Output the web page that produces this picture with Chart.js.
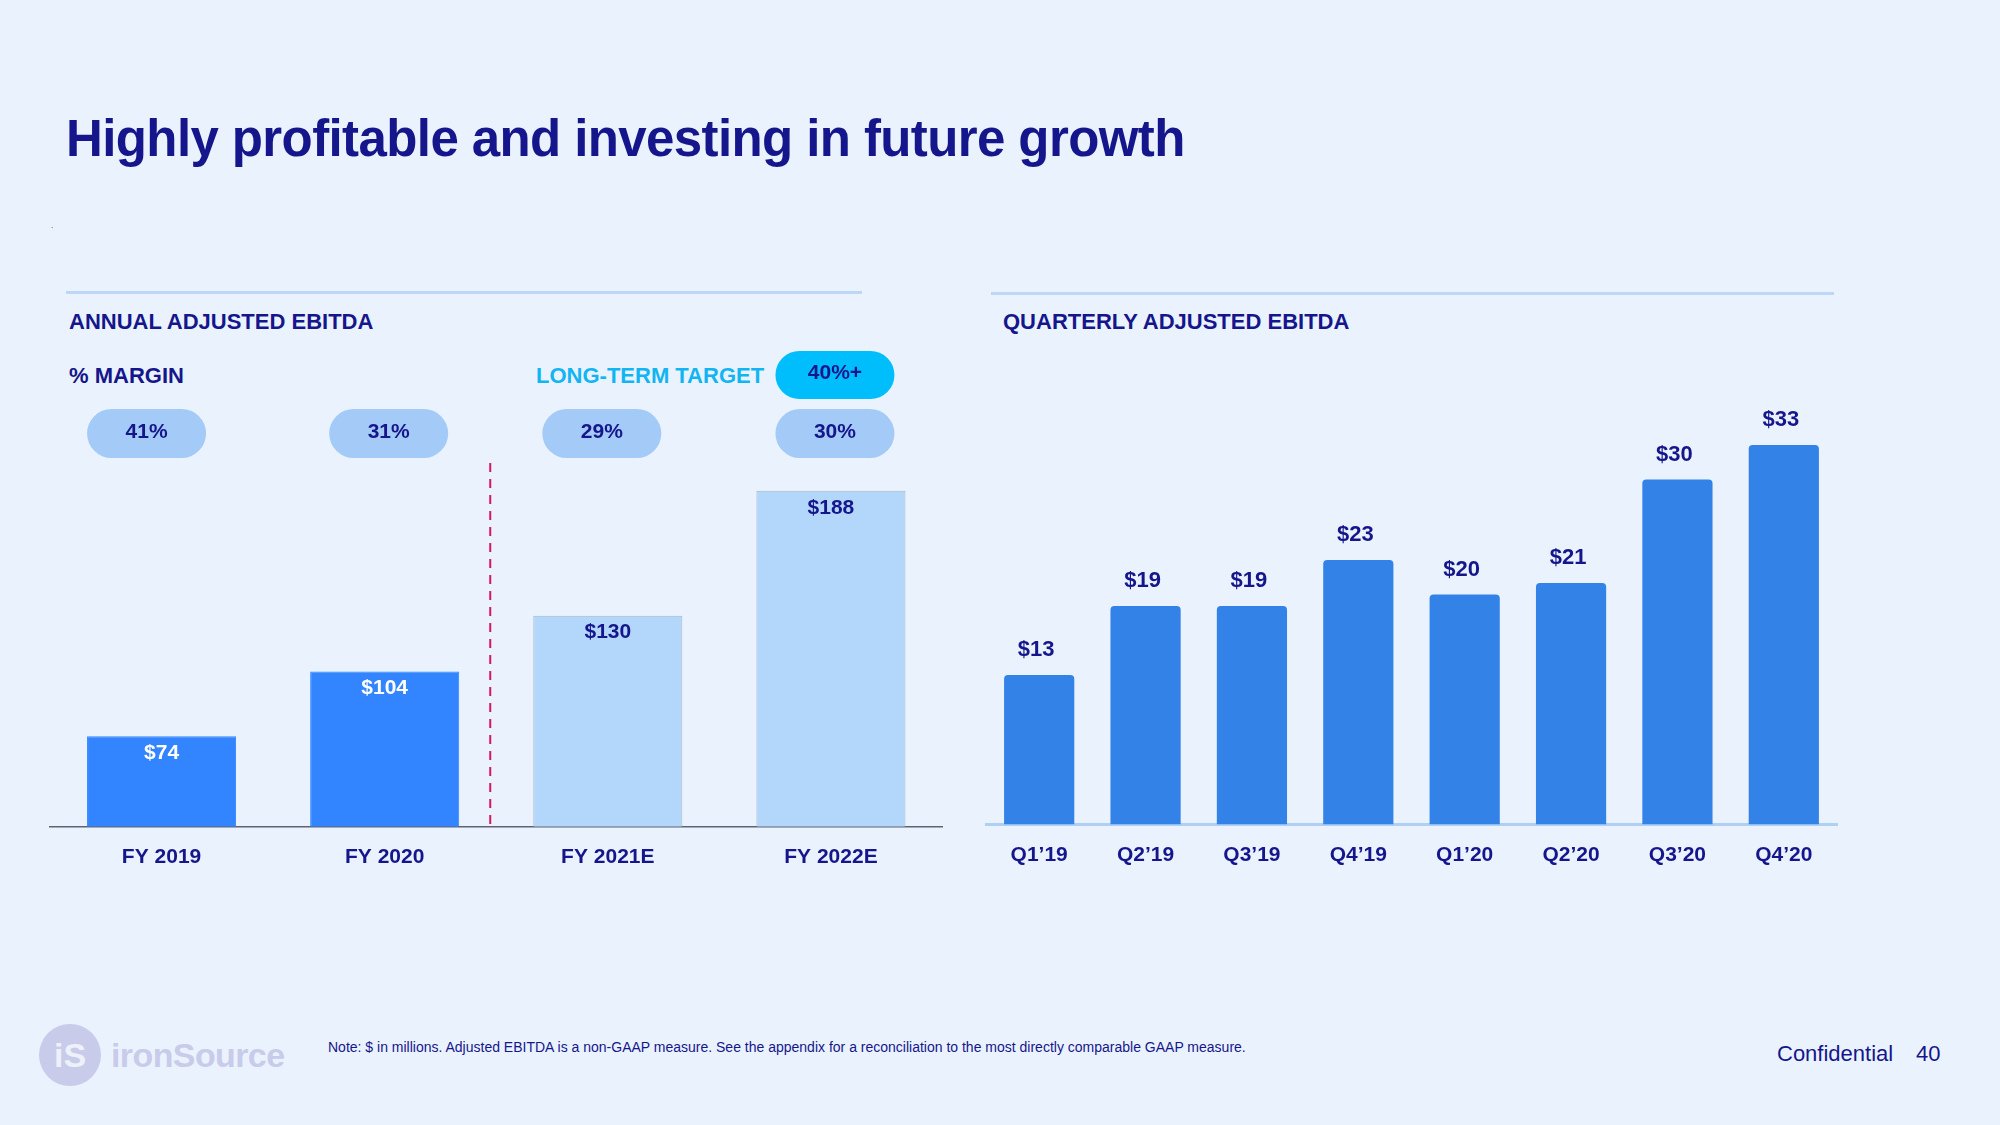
<!DOCTYPE html>
<html>
<head>
<meta charset="utf-8">
<script src="https://cdn.jsdelivr.net/npm/chart.js@4.4.0/dist/chart.umd.min.js"></script>
<style>
  html, body { margin: 0; padding: 0; }
  body {
    width: 2000px; height: 1125px; position: relative; overflow: hidden;
    background: #EAF3FD; font-family: "Liberation Sans", Arial, sans-serif; color: #16168C;
  }
  .abs { position: absolute; white-space: nowrap; line-height: 1; }
  .rule { position: absolute; height: 3px; background: #BCD8F6; }
  .hdr { font-weight: bold; font-size: 22px; }
  canvas { position: absolute; }
</style>
</head>
<body>
<div class="abs" id="title" style="left:66px; top:113px; font-size:51px; font-weight:bold; letter-spacing:-0.6px;">Highly profitable and investing in future growth</div>
<div class="abs" style="left:51px; top:222px; font-size:8px;">.</div>

<div class="rule" style="left:66px; top:291px; width:796px;"></div>
<div class="rule" style="left:991px; top:292px; width:843px;"></div>

<div class="abs hdr" style="left:69px; top:311px;">ANNUAL ADJUSTED EBITDA</div>
<div class="abs hdr" style="left:69px; top:365px;">% MARGIN</div>
<div class="abs hdr" style="left:536px; top:365px; color:#12B5F2;">LONG-TERM TARGET</div>
<div class="abs hdr" style="left:1003px; top:311px;">QUARTERLY ADJUSTED EBITDA</div>

<canvas id="annualChart" width="1000" height="620" style="left:0px; top:280px;"></canvas>
<canvas id="quarterChart" width="1040" height="620" style="left:960px; top:280px;"></canvas>

<div class="abs" style="left:39px; top:1024px; width:62px; height:62px; border-radius:50%; background:#C9CBEA; color:#EEF0FA; font-weight:bold; font-size:34px; text-align:center; line-height:62px;">iS</div>
<div class="abs" style="left:111px; top:1038px; font-size:34px; font-weight:bold; color:#C9CBEA; letter-spacing:-0.6px;">ironSource</div>
<div class="abs" style="left:328px; top:1040px; font-size:14px;">Note: $ in millions. Adjusted EBITDA is a non-GAAP measure. See the appendix for a reconciliation to the most directly comparable GAAP measure.</div>
<div class="abs" style="left:1777px; top:1043px; font-size:22px;">Confidential</div>
<div class="abs" style="left:1916px; top:1043px; font-size:22px;">40</div>

<script>
const annualLabels = ['FY 2019', 'FY 2020', 'FY 2021E', 'FY 2022E'];
const annualValues = [74, 104, 130, 188];
const annualMargins = ['41%', '31%', '29%', '30%'];
const longTermTarget = '40%+';

const quarterLabels = ['Q1\u201919', 'Q2\u201919', 'Q3\u201919', 'Q4\u201919', 'Q1\u201920', 'Q2\u201920', 'Q3\u201920', 'Q4\u201920'];
const quarterValues = [13, 19, 19, 23, 20, 21, 30, 33];

const NAVY = '#16168C';
const FONT = '"Liberation Sans", Arial, sans-serif';

// actuals dark, estimates light
const annualColors = ['#3385FF', '#3385FF', '#B3D6FB', '#B3D6FB'];
const annualBorders = ['#3385FF', '#3385FF', '#A3B7CB', '#A3B7CB'];
const annualTextColors = ['#FFFFFF', '#FFFFFF', NAVY, NAVY];

function roundRect(ctx, x, y, w, h, r) {
    ctx.beginPath();
    ctx.moveTo(x + r, y);
    ctx.arcTo(x + w, y, x + w, y + h, r);
    ctx.arcTo(x + w, y + h, x, y + h, r);
    ctx.arcTo(x, y + h, x, y, r);
    ctx.arcTo(x, y, x + w, y, r);
    ctx.closePath();
}

const annualDecor = {
    id: 'annualDecor',
    beforeDatasetsDraw(chart) {
        const ctx = chart.ctx;
        const xs = chart.scales.x;
        const area = chart.chartArea;
        // dashed divider between actuals and estimates
        const dx = (xs.getPixelForValue(1) + xs.getPixelForValue(2)) / 2 - 6;
        ctx.save();
        ctx.strokeStyle = '#D6175F';
        ctx.lineWidth = 2;
        ctx.setLineDash([9, 7]);
        ctx.beginPath();
        ctx.moveTo(dx, 183);
        ctx.lineTo(dx, area.bottom);
        ctx.stroke();
        ctx.restore();
    },
    afterDatasetsDraw(chart) {
        const ctx = chart.ctx;
        const meta = chart.getDatasetMeta(0);
        const pillShift = [-15, 4, -6, 4];
        ctx.save();
        ctx.textAlign = 'center';
        ctx.textBaseline = 'middle';
        ctx.font = 'bold 21px ' + FONT;
        meta.data.forEach((bar, i) => {
            ctx.fillStyle = annualTextColors[i];
            ctx.fillText('$' + annualValues[i], bar.x, bar.y + 17);

            const cx = bar.x + pillShift[i];
            ctx.fillStyle = '#A4CBF7';
            roundRect(ctx, cx - 59.5, 129, 119, 49, 24.5);
            ctx.fill();
            ctx.fillStyle = NAVY;
            ctx.fillText(annualMargins[i], cx, 152);
        });
        // long-term target pill over the last bar
        const last = meta.data[meta.data.length - 1];
        const tx = last.x + pillShift[pillShift.length - 1];
        ctx.fillStyle = '#00BEFB';
        roundRect(ctx, tx - 59.5, 71, 119, 48, 24);
        ctx.fill();
        ctx.fillStyle = NAVY;
        ctx.fillText(longTermTarget, tx, 93);
        ctx.restore();
    }
};

const quarterLabelsPlugin = {
    id: 'quarterLabelsPlugin',
    afterDatasetsDraw(chart) {
        const ctx = chart.ctx;
        ctx.save();
        ctx.textAlign = 'center';
        ctx.textBaseline = 'middle';
        ctx.font = 'bold 22px ' + FONT;
        ctx.fillStyle = NAVY;
        chart.getDatasetMeta(0).data.forEach((bar, i) => {
            ctx.fillText('$' + quarterValues[i], bar.x - 3, bar.y - 25);
        });
        ctx.restore();
    }
};

function xAxis(borderColor, borderWidth, height) {
    return {
        grid: { display: false, drawTicks: false },
        border: { display: true, color: borderColor, width: borderWidth },
        ticks: { color: NAVY, font: { family: FONT, size: 21, weight: 'bold' }, padding: 18, maxRotation: 0 },
        afterFit(scale) { scale.height = height; }
    };
}

new Chart(document.getElementById('annualChart').getContext('2d'), {
    type: 'bar',
    data: {
        labels: annualLabels,
        datasets: [{
            data: annualValues,
            backgroundColor: annualColors,
            borderColor: annualBorders,
            borderWidth: 1,
            borderSkipped: 'bottom',
            categoryPercentage: 1,
            barPercentage: 0.668
        }]
    },
    options: {
        responsive: false,
        animation: false,
        events: [],
        layout: { padding: { left: 50, right: 57.5, top: 185, bottom: 0 } },
        plugins: { legend: { display: false }, tooltip: { enabled: false } },
        scales: {
            x: xAxis('#5E6272', 1.5, 73.5),
            // the slide's bars sit on a truncated base
            y: { display: false, min: 32, max: 200 }
        }
    },
    plugins: [annualDecor]
});

new Chart(document.getElementById('quarterChart').getContext('2d'), {
    type: 'bar',
    data: {
        labels: quarterLabels,
        datasets: [{
            data: quarterValues,
            backgroundColor: '#3382E8',
            borderRadius: 4,
            borderSkipped: 'bottom',
            categoryPercentage: 1,
            barPercentage: 0.66
        }]
    },
    options: {
        responsive: false,
        animation: false,
        events: [],
        layout: { padding: { left: 26, right: 163, top: 84.5, bottom: 0 } },
        plugins: { legend: { display: false }, tooltip: { enabled: false } },
        scales: {
            x: xAxis('#AFCFF4', 3, 75.5),
            y: { display: false, min: 0, max: 40 }
        }
    },
    plugins: [quarterLabelsPlugin]
});
</script>
</body>
</html>
